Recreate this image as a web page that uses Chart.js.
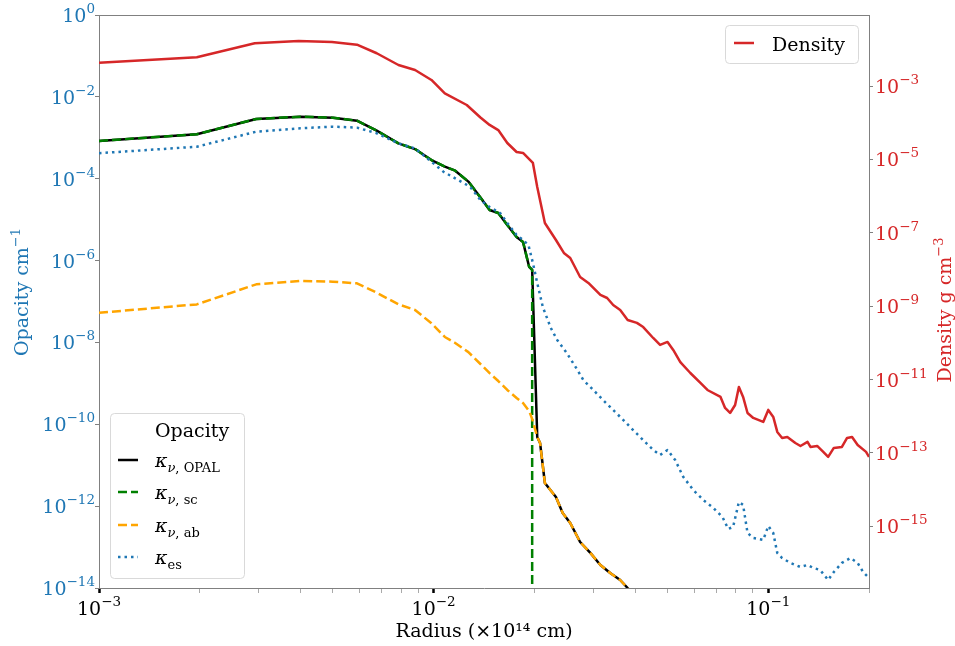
<!DOCTYPE html>
<html>
<head>
<meta charset="utf-8">
<script src="https://cdn.jsdelivr.net/npm/chart.js@4.4.0/dist/chart.umd.min.js"></script>
<style>
  html, body { margin: 0; padding: 0; background: #fff; }
</style>
</head>
<body>
<canvas id="myChart" width="955" height="646"></canvas>
<script>
// radius in units of 1e14 cm
const opacityRadius = [1.0e-3, 1.96e-3, 2.95e-3, 4.0e-3, 5.0e-3, 5.9e-3, 6.76e-3, 7.85e-3, 8.8e-3, 9.85e-3,
  1.08e-2, 1.16e-2, 1.27e-2, 1.38e-2, 1.47e-2, 1.56e-2, 1.66e-2, 1.77e-2, 1.85e-2, 1.93e-2,
  1.97e-2, 2.04e-2, 2.08e-2, 2.15e-2, 2.32e-2, 2.43e-2, 2.56e-2, 2.74e-2, 2.94e-2, 3.15e-2,
  3.37e-2, 3.61e-2, 3.8e-2, 4.0e-2];
const kappaOpal = [8.4e-4, 1.22e-3, 2.88e-3, 3.27e-3, 3.1e-3, 2.62e-3, 1.49e-3, 7.3e-4, 5.3e-4, 2.86e-4,
  1.97e-4, 1.57e-4, 8.5e-5, 3.48e-5, 1.72e-5, 1.45e-5, 7.4e-6, 3.77e-6, 2.84e-6, 6.97e-7,
  5.9e-7, 4.9e-11, 3.5e-11, 3.68e-12, 1.67e-12, 6.8e-13, 3.87e-13, 1.33e-13, 7.2e-14, 3.65e-14,
  2.33e-14, 1.57e-14, 1.0e-14, 6.0e-15];
const kappaAb = [5.3e-8, 8.5e-8, 2.63e-7, 3.17e-7, 3.05e-7, 2.79e-7, 1.64e-7, 8.5e-8, 6.2e-8, 2.94e-8,
  1.36e-8, 9.7e-9, 5.8e-9, 2.97e-9, 1.78e-9, 1.14e-9, 6.9e-10, 4.4e-10, 3.3e-10, 2.1e-10,
  1.35e-10, 4.9e-11, 3.5e-11, 3.68e-12, 1.67e-12, 6.8e-13, 3.87e-13, 1.33e-13, 7.2e-14, 3.65e-14,
  2.33e-14, 1.57e-14, 1.0e-14, 6.0e-15];
// scattering part drops to (practically) zero at r ~ 0.0197
const scRadius = [1.0e-3, 1.96e-3, 2.95e-3, 4.0e-3, 5.0e-3, 5.9e-3, 6.76e-3, 7.85e-3, 8.8e-3, 9.85e-3,
  1.08e-2, 1.16e-2, 1.27e-2, 1.38e-2, 1.47e-2, 1.56e-2, 1.66e-2, 1.77e-2, 1.85e-2, 1.93e-2,
  1.97e-2, 1.97e-2];
const kappaSc = [8.4e-4, 1.22e-3, 2.88e-3, 3.27e-3, 3.1e-3, 2.62e-3, 1.49e-3, 7.3e-4, 5.3e-4, 2.86e-4,
  1.97e-4, 1.57e-4, 8.5e-5, 3.48e-5, 1.72e-5, 1.45e-5, 7.4e-6, 3.77e-6, 2.84e-6, 6.97e-7,
  5.9e-7, 1e-30];

const esRadius = [1.0e-3, 1.96e-3, 2.95e-3, 4.0e-3, 5.0e-3, 5.9e-3, 6.76e-3, 7.85e-3, 8.8e-3, 9.85e-3,
  1.07e-2, 1.16e-2, 1.285e-2, 1.38e-2, 1.47e-2, 1.58e-2, 1.66e-2, 1.77e-2, 1.85e-2, 1.92e-2,
  1.98e-2, 2.04e-2, 2.12e-2, 2.24e-2, 2.34e-2, 2.5e-2, 2.69e-2, 2.8e-2, 3.0e-2, 3.21e-2,
  3.44e-2, 3.69e-2, 3.94e-2, 4.23e-2, 4.53e-2, 4.75e-2, 5.0e-2, 5.27e-2, 5.57e-2, 5.97e-2,
  6.4e-2, 6.86e-2, 7.3e-2, 7.59e-2, 7.85e-2, 8.17e-2, 8.41e-2, 8.67e-2, 9.02e-2, 9.66e-2,
  1.0e-1, 1.035e-1, 1.064e-1, 1.10e-1, 1.165e-1, 1.248e-1, 1.31e-1, 1.365e-1, 1.43e-1, 1.51e-1,
  1.57e-1, 1.66e-1, 1.76e-1, 1.85e-1, 1.92e-1, 2.0e-1];
const kappaEs = [4.2e-4, 6.05e-4, 1.41e-3, 1.71e-3, 1.87e-3, 1.77e-3, 1.29e-3, 7.3e-4, 5.5e-4, 2.6e-4,
  1.48e-4, 1.02e-4, 6.4e-5, 3.02e-5, 2.04e-5, 1.45e-5, 8.3e-6, 4.2e-6, 3.18e-6, 2.4e-6,
  8.7e-7, 2.83e-7, 7.3e-8, 2.25e-8, 1.15e-8, 5.5e-9, 2.12e-9, 1.21e-9, 6.9e-10, 3.9e-10,
  2.23e-10, 1.27e-10, 7.3e-11, 4.1e-11, 2.36e-11, 1.78e-11, 2.36e-11, 1.34e-11, 5.2e-12, 2.48e-12,
  1.41e-12, 9.0e-13, 5.4e-13, 2.77e-13, 3.1e-13, 1.26e-12, 1.07e-12, 2.21e-13, 1.67e-13, 1.49e-13,
  3.27e-13, 2.21e-13, 7.2e-14, 5.4e-14, 4.1e-14, 3.26e-14, 3.65e-14, 3.08e-14, 2.75e-14, 1.57e-14,
  2.46e-14, 4.1e-14, 5.4e-14, 4.1e-14, 2.46e-14, 1.76e-14];

const densityRadius = [1.0e-3, 1.96e-3, 2.92e-3, 3.95e-3, 4.97e-3, 5.9e-3, 6.76e-3, 7.85e-3, 8.8e-3, 9.85e-3,
  1.08e-2, 1.256e-2, 1.38e-2, 1.47e-2, 1.56e-2, 1.66e-2, 1.77e-2, 1.85e-2, 1.98e-2, 2.04e-2,
  2.15e-2, 2.32e-2, 2.45e-2, 2.56e-2, 2.74e-2, 2.9e-2, 3.15e-2, 3.30e-2, 3.44e-2, 3.61e-2,
  3.8e-2, 4.05e-2, 4.23e-2, 4.53e-2, 4.75e-2, 5.0e-2, 5.2e-2, 5.46e-2, 5.85e-2, 6.27e-2,
  6.58e-2, 7.2e-2, 7.43e-2, 7.69e-2, 7.96e-2, 8.17e-2, 8.41e-2, 8.67e-2, 9.02e-2, 9.66e-2,
  1.0e-1, 1.035e-1, 1.064e-1, 1.10e-1, 1.14e-1, 1.205e-1, 1.248e-1, 1.31e-1, 1.337e-1, 1.40e-1,
  1.46e-1, 1.51e-1, 1.57e-1, 1.66e-1, 1.72e-1, 1.78e-1, 1.85e-1, 1.96e-1, 2.0e-1];
const density = [4.3e-3, 6.1e-3, 1.46e-2, 1.69e-2, 1.58e-2, 1.34e-2, 7.8e-3, 3.74e-3, 2.73e-3, 1.46e-3,
  6.3e-4, 3.04e-4, 1.39e-4, 8.7e-5, 6.3e-5, 2.8e-5, 1.59e-5, 1.50e-5, 7.98e-6, 1.77e-6,
  1.85e-7, 6.37e-8, 2.82e-8, 2.06e-8, 6.25e-9, 4.3e-9, 2.02e-9, 1.67e-9, 1.08e-9, 7.9e-10,
  4.2e-10, 3.5e-10, 2.7e-10, 1.36e-10, 8.8e-11, 1.06e-10, 6.4e-11, 3.0e-11, 1.51e-11, 8.1e-12,
  5.2e-12, 3.36e-12, 1.69e-12, 1.23e-12, 2.03e-12, 6.3e-12, 3.36e-12, 1.23e-12, 9.0e-13, 7.0e-13,
  1.49e-12, 9.6e-13, 3.74e-13, 2.56e-13, 2.73e-13, 1.87e-13, 1.55e-13, 2.0e-13, 1.46e-13, 1.55e-13,
  1.07e-13, 7.8e-14, 1.37e-13, 1.46e-13, 2.56e-13, 2.73e-13, 1.65e-13, 1.07e-13, 7.8e-14];

const radiusTicks = [1e-3, 2e-3, 3e-3, 4e-3, 5e-3, 6e-3, 7e-3, 8e-3, 9e-3,
  1e-2, 2e-2, 3e-2, 4e-2, 5e-2, 6e-2, 7e-2, 8e-2, 9e-2, 1e-1, 2e-1];
const opacityTicks = [1, 1e-2, 1e-4, 1e-6, 1e-8, 1e-10, 1e-12, 1e-14];
const densityTicks = [1e-3, 1e-5, 1e-7, 1e-9, 1e-11, 1e-13, 1e-15];

const serif = "'DejaVu Serif', serif";
const blue = '#1f77b4', red = '#d62728', spine = '#808080';

const big = '19px ' + serif, small = '13px ' + serif, sup = '13.5px ' + serif;
const bigIt = 'italic 19px ' + serif, smallIt = 'italic 13px ' + serif;

function isDecade(v) {
  const e = Math.log10(v);
  return Math.abs(e - Math.round(e)) < 1e-6;
}

function powParts(v) {
  const e = Math.round(Math.log10(v));
  return [{ text: '10', font: big }, { text: String(e).replace('-', '\u2212'), font: sup, dy: -9 }];
}

function points(xs, ys) {
  return xs.map((x, i) => ({ x: x, y: ys[i] }));
}

function richText(ctx, parts, x, y, align) {
  const widths = parts.map(p => { ctx.font = p.font; return ctx.measureText(p.text).width; });
  const total = widths.reduce((a, b) => a + b, 0);
  let cx = x;
  if (align === 'center') cx = x - total / 2;
  if (align === 'right') cx = x - total;
  parts.forEach((p, i) => {
    ctx.font = p.font;
    ctx.fillText(p.text, cx, y + (p.dy || 0));
    cx += widths[i];
  });
}

const kappaLabels = {
  opal: [{ text: '\u03ba', font: bigIt }, { text: '\u03bd', font: smallIt, dy: 5 }, { text: ', OPAL', font: small, dy: 5 }],
  sc: [{ text: '\u03ba', font: bigIt }, { text: '\u03bd', font: smallIt, dy: 5 }, { text: ', sc', font: small, dy: 5 }],
  ab: [{ text: '\u03ba', font: bigIt }, { text: '\u03bd', font: smallIt, dy: 5 }, { text: ', ab', font: small, dy: 5 }],
  es: [{ text: '\u03ba', font: bigIt }, { text: 'es', font: small, dy: 5 }]
};

function drawHandle(ctx, ds, x0, x1, y) {
  ctx.save();
  ctx.strokeStyle = ds.borderColor;
  ctx.lineWidth = ds.borderWidth;
  ctx.setLineDash(ds.borderDash || []);
  ctx.beginPath();
  ctx.moveTo(x0, y);
  ctx.lineTo(x1, y);
  ctx.stroke();
  ctx.restore();
}

function legendBox(ctx, x, y, w, h) {
  ctx.save();
  ctx.fillStyle = 'rgba(255,255,255,0.8)';
  ctx.strokeStyle = '#d9d9d9';
  ctx.lineWidth = 1;
  ctx.beginPath();
  ctx.roundRect(x + 0.5, y + 0.5, w, h, 4);
  ctx.fill();
  ctx.stroke();
  ctx.restore();
}

const decorations = {
  id: 'decorations',
  afterDraw(chart) {
    const ctx = chart.ctx;
    const area = chart.chartArea;
    const byKey = {};
    chart.data.datasets.forEach(ds => { byKey[ds.key] = ds; });
    ctx.save();

    // top spine
    ctx.strokeStyle = spine;
    ctx.lineWidth = 1;
    ctx.beginPath();
    ctx.moveTo(area.left, area.top + 0.5);
    ctx.lineTo(area.right, area.top + 0.5);
    ctx.stroke();

    // tick labels with raised exponents
    ctx.textBaseline = 'alphabetic';
    const sx = chart.scales.x, sOp = chart.scales.yOp, sDen = chart.scales.yDen;
    ctx.fillStyle = '#000';
    radiusTicks.filter(isDecade).forEach(v => richText(ctx, powParts(v), sx.getPixelForValue(v), 615, 'center'));
    ctx.fillStyle = blue;
    opacityTicks.forEach(v => richText(ctx, powParts(v), 95, sOp.getPixelForValue(v) + 7, 'right'));
    ctx.fillStyle = red;
    densityTicks.forEach(v => richText(ctx, powParts(v), 875, sDen.getPixelForValue(v) + 7, 'left'));

    // y axis titles, both reading upwards
    ctx.save();
    ctx.translate(28, 292);
    ctx.rotate(-Math.PI / 2);
    ctx.fillStyle = blue;
    richText(ctx, [{ text: 'Opacity cm', font: big }, { text: '\u22121', font: small, dy: -8 }], 0, 0, 'center');
    ctx.restore();

    ctx.save();
    ctx.translate(951, 310);
    ctx.rotate(-Math.PI / 2);
    ctx.fillStyle = red;
    richText(ctx, [{ text: 'Density g cm', font: big }, { text: '\u22123', font: small, dy: -8 }], 0, 0, 'center');
    ctx.restore();

    // density legend
    legendBox(ctx, 725, 25, 133, 38);
    drawHandle(ctx, byKey.density, 734, 754, 43);
    ctx.fillStyle = '#000';
    ctx.font = big;
    ctx.fillText('Density', 772, 51);

    // opacity legend
    legendBox(ctx, 110, 413, 134, 165);
    ctx.fillStyle = '#000';
    ctx.font = big;
    ctx.fillText('Opacity', 155, 437);
    const rows = [['opal', 460], ['sc', 492], ['ab', 525], ['es', 557]];
    rows.forEach(([key, y]) => {
      drawHandle(ctx, byKey[key], 118, 138, y);
      ctx.fillStyle = '#000';
      richText(ctx, kappaLabels[key], 155, y + 7, 'left');
    });
    ctx.restore();
  }
};

function lineSet(key, xs, ys, color, dash, axis, order) {
  return {
    key: key,
    data: points(xs, ys),
    borderColor: color,
    borderWidth: 2.5,
    borderDash: dash,
    borderCapStyle: 'butt',
    borderJoinStyle: 'round',
    pointRadius: 0,
    tension: 0,
    fill: false,
    yAxisID: axis,
    order: order,
    clip: 0
  };
}

const datasets = [
  lineSet('density', densityRadius, density, red, [], 'yDen', 0),
  lineSet('es', esRadius, kappaEs, blue, [2.5, 4], 'yOp', 1),
  lineSet('ab', opacityRadius, kappaAb, 'orange', [9, 4], 'yOp', 2),
  lineSet('sc', scRadius, kappaSc, 'green', [9, 4], 'yOp', 3),
  lineSet('opal', opacityRadius, kappaOpal, '#000000', [], 'yOp', 4)
];

new Chart(document.getElementById('myChart').getContext('2d'), {
  type: 'line',
  data: { datasets: datasets },
  options: {
    responsive: false,
    animation: false,
    events: [],
    layout: { padding: { top: 15, left: 0, right: 0, bottom: 0 } },
    plugins: { legend: { display: false }, tooltip: { enabled: false } },
    scales: {
      x: {
        type: 'logarithmic',
        position: 'bottom',
        min: 1e-3,
        max: 0.2,
        afterBuildTicks: (scale) => { scale.ticks = radiusTicks.map(v => ({ value: v })); },
        afterFit: (scale) => { scale.height = 58; },
        ticks: { autoSkip: false, maxRotation: 0, callback: () => '' },
        grid: {
          drawOnChartArea: false,
          tickLength: 5,
          tickColor: (c) => (c.tick && isDecade(c.tick.value)) ? '#000' : '#aaaaaa',
          tickWidth: (c) => (c.tick && isDecade(c.tick.value)) ? 2.5 : 1
        },
        border: { color: spine, width: 1 },
        title: {
          display: true,
          text: 'Radius (\u00d710\u00b9\u2074 cm)',
          color: '#000',
          font: { family: serif, size: 19 },
          padding: { top: 0, bottom: 3 }
        }
      },
      yOp: {
        type: 'logarithmic',
        position: 'left',
        min: 1e-14,
        max: 1,
        afterBuildTicks: (scale) => { scale.ticks = opacityTicks.map(v => ({ value: v })); },
        afterFit: (scale) => { scale.width = 99; },
        ticks: { autoSkip: false, callback: () => '' },
        grid: { drawOnChartArea: false, tickLength: 4, tickColor: spine },
        border: { color: spine, width: 1 }
      },
      yDen: {
        type: 'logarithmic',
        position: 'right',
        min: Math.pow(10, -16.68),
        max: Math.pow(10, -1.065),
        afterBuildTicks: (scale) => { scale.ticks = densityTicks.map(v => ({ value: v })); },
        afterFit: (scale) => { scale.width = 86; },
        ticks: { autoSkip: false, callback: () => '' },
        grid: { drawOnChartArea: false, tickLength: 4, tickColor: spine },
        border: { color: spine, width: 1 }
      }
    }
  },
  plugins: [decorations]
});
</script>
</body>
</html>
